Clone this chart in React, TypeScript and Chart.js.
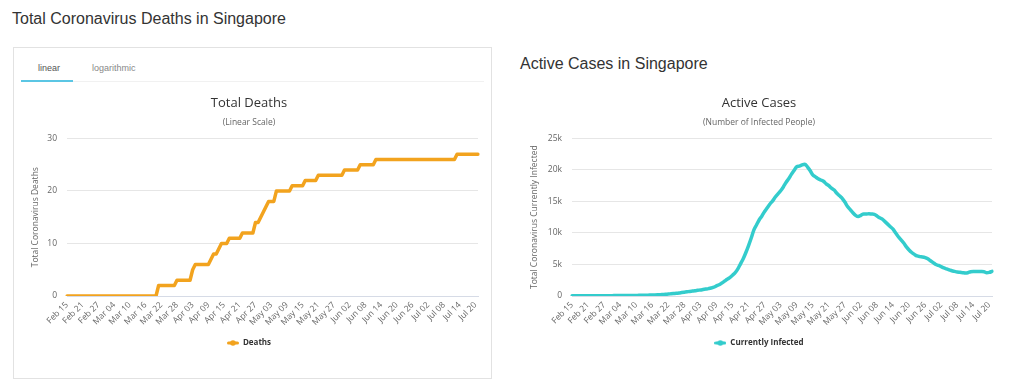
import React, { useEffect, useRef } from 'react';
import { Chart, registerables } from 'chart.js';

Chart.register(...registerables);

const FONT = "'Open Sans', 'DejaVu Sans', sans-serif";
const START_DATE = '2020-02-15';
const MONTHS = ['Jan', 'Feb', 'Mar', 'Apr', 'May', 'Jun', 'Jul', 'Aug', 'Sep', 'Oct', 'Nov', 'Dec'];

const TICK_LABELS = [
  'Feb 15', 'Feb 21', 'Feb 27', 'Mar 04', 'Mar 10', 'Mar 16', 'Mar 22', 'Mar 28', 'Apr 03',
  'Apr 09', 'Apr 15', 'Apr 21', 'Apr 27', 'May 03', 'May 09', 'May 15', 'May 21', 'May 27',
  'Jun 02', 'Jun 08', 'Jun 14', 'Jun 20', 'Jun 26', 'Jul 02', 'Jul 08', 'Jul 14', 'Jul 20',
];

const TOTAL_DEATHS = [
  0, 0, 0, 0, 0, 0, 0, 0, 0, 0,
  0, 0, 0, 0, 0, 0, 0, 0, 0, 0,
  0, 0, 0, 0, 0, 0, 0, 0, 0, 0,
  0, 0, 0, 0, 0, 2, 2, 2, 2, 2,
  2, 2, 3, 3, 3, 3, 3, 3, 5, 6,
  6, 6, 6, 6, 6, 7, 8, 8, 9, 10,
  10, 10, 11, 11, 11, 11, 11, 12, 12, 12,
  12, 12, 14, 14, 15, 16, 17, 18, 18, 18,
  20, 20, 20, 20, 20, 20, 21, 21, 21, 21,
  21, 22, 22, 22, 22, 22, 23, 23, 23, 23,
  23, 23, 23, 23, 23, 23, 24, 24, 24, 24,
  24, 24, 25, 25, 25, 25, 25, 25, 26, 26,
  26, 26, 26, 26, 26, 26, 26, 26, 26, 26,
  26, 26, 26, 26, 26, 26, 26, 26, 26, 26,
  26, 26, 26, 26, 26, 26, 26, 26, 26, 27,
  27, 27, 27, 27, 27, 27, 27, 27,
];

const ACTIVE_CASES = [
  50, 52, 55, 57, 55, 54, 52, 50, 48, 47,
  46, 48, 50, 52, 55, 58, 62, 66, 70, 72,
  75, 80, 85, 90, 96, 102, 110, 120, 130, 140,
  155, 170, 185, 200, 240, 280, 310, 350, 390, 430,
  480, 540, 600, 660, 730, 780, 830, 900, 960, 1030,
  1100, 1170, 1260, 1400, 1600, 1780, 2050, 2350, 2650, 2900,
  3300, 3700, 4300, 5100, 5900, 6900, 8000, 9200, 10500, 11300,
  12100, 12700, 13400, 14000, 14600, 15100, 15700, 16200, 16700, 17300,
  18000, 18600, 19300, 19900, 20500, 20600, 20800, 20900, 20500, 19900,
  19200, 18900, 18600, 18400, 18200, 17800, 17500, 17100, 16800, 16300,
  15900, 15500, 14900, 14200, 13700, 13200, 12800, 12600, 12800, 13000,
  13000, 13050, 13000, 12950, 12700, 12400, 12200, 11800, 11400, 11000,
  10600, 10000, 9400, 8900, 8400, 7800, 7300, 6900, 6600, 6350,
  6250, 6200, 6100, 5900, 5600, 5300, 5000, 4850, 4650, 4450,
  4300, 4150, 4000, 3900, 3800, 3750, 3700, 3650, 3700, 3850,
  3900, 3900, 3880, 3870, 3850, 3700, 3750, 3900,
];

const DEATH_TICKS = [0, 10, 20, 30];
const ACTIVE_TICKS = [0, 5000, 10000, 15000, 20000, 25000];

function buildDates(count: number): string[] {
  const out: string[] = [];
  const d = new Date(START_DATE + 'T00:00:00Z');
  for (let i = 0; i < count; i++) {
    const day = d.getUTCDate();
    out.push(MONTHS[d.getUTCMonth()] + ' ' + (day < 10 ? '0' + day : String(day)));
    d.setUTCDate(d.getUTCDate() + 1);
  }
  return out;
}

const DATES = buildDates(TOTAL_DEATHS.length);

function legendImage(color: string): HTMLCanvasElement {
  const c = document.createElement('canvas');
  c.width = 12;
  c.height = 6;
  const ctx = c.getContext('2d')!;
  ctx.strokeStyle = color;
  ctx.fillStyle = color;
  ctx.lineWidth = 3;
  ctx.lineCap = 'round';
  ctx.beginPath();
  ctx.moveTo(1.5, 3);
  ctx.lineTo(10.5, 3);
  ctx.stroke();
  ctx.beginPath();
  ctx.arc(6, 3, 2.8, 0, Math.PI * 2);
  ctx.fill();
  return c;
}

type Cfg = {
  title: string;
  subtitle: string;
  label: string;
  data: number[];
  color: string;
  tension: number;
  max: number;
  ticks: number[];
  yTitle: string;
  yWidth: number;
  yTitlePad: number;
  padRight: number;
  fmt: (v: number) => string;
};

function makeConfig(c: Cfg): any {
  const small = { family: FONT, size: 8.5 };
  return {
    type: 'line',
    data: {
      labels: DATES,
      datasets: [
        {
          label: c.label,
          data: c.data,
          borderColor: c.color,
          backgroundColor: c.color,
          borderWidth: 3.5,
          pointRadius: 0,
          pointHoverRadius: 0,
          tension: c.tension,
          cubicInterpolationMode: c.tension > 0 ? 'monotone' : 'default',
          fill: false,
          borderJoinStyle: 'round',
          borderCapStyle: 'round',
        },
      ],
    },
    options: {
      responsive: false,
      animation: false,
      events: [],
      layout: { padding: { left: 0, right: c.padRight, top: 0, bottom: 3 } },
      plugins: {
        title: {
          display: true,
          text: c.title,
          color: '#333333',
          font: { family: FONT, size: 13, weight: 'normal' },
          padding: { top: 7, bottom: 4 },
        },
        subtitle: {
          display: true,
          text: c.subtitle,
          color: '#666666',
          font: small,
          padding: { top: 3, bottom: 10.6 },
        },
        legend: {
          position: 'bottom',
          labels: {
            usePointStyle: true,
            pointStyle: legendImage(c.color),
            pointStyleWidth: 12,
            color: '#333333',
            font: { family: FONT, size: 8, weight: 'bold' },
            padding: 10,
          },
        },
        tooltip: { enabled: false },
      },
      scales: {
        x: {
          type: 'category',
          grid: { display: false, drawTicks: false },
          border: { display: true, color: '#d6dbe6', width: 1 },
          ticks: {
            autoSkip: false,
            maxRotation: 45,
            minRotation: 45,
            padding: 4,
            color: '#666666',
            font: small,
          },
          afterBuildTicks: (s: any) => {
            s.ticks = s.ticks.filter((t: any) => TICK_LABELS.includes(DATES[t.value]));
          },
          afterFit: (s: any) => {
            s.height = 33;
            s.paddingLeft = 0;
            s.paddingRight = 0;
          },
        },
        y: {
          min: 0,
          max: c.max,
          afterBuildTicks: (s: any) => {
            s.ticks = c.ticks.map((v) => ({ value: v }));
          },
          grid: { color: '#e6e6e6', drawTicks: false, lineWidth: 1 },
          border: { display: false },
          ticks: {
            padding: 10,
            color: '#666666',
            font: small,
            callback: (v: any) => c.fmt(Number(v)),
          },
          title: {
            display: true,
            text: c.yTitle,
            color: '#666666',
            font: small,
            padding: { top: c.yTitlePad, bottom: 0 },
          },
          afterFit: (s: any) => {
            s.width = c.yWidth;
          },
        },
      },
    },
  };
}

function ChartCanvas(props: { cfg: Cfg; left: number; top: number; width: number; height: number }) {
  const ref = useRef<HTMLCanvasElement>(null);
  useEffect(() => {
    if (!ref.current) return;
    const chart = new Chart(ref.current, makeConfig(props.cfg));
    return () => chart.destroy();
  }, []);
  return (
    <canvas
      ref={ref}
      width={props.width}
      height={props.height}
      style={{ position: 'absolute', left: props.left, top: props.top, width: props.width, height: props.height }}
    />
  );
}

const deathsCfg: Cfg = {
  title: 'Total Deaths',
  subtitle: '(Linear Scale)',
  label: 'Deaths',
  data: TOTAL_DEATHS,
  color: '#F2A31E',
  tension: 0,
  max: 30,
  ticks: DEATH_TICKS,
  yTitle: 'Total Coronavirus Deaths',
  yWidth: 47,
  yTitlePad: 10.4,
  padRight: 8,
  fmt: (v) => String(v),
};

const activeCfg: Cfg = {
  title: 'Active Cases',
  subtitle: '(Number of Infected People)',
  label: 'Currently Infected',
  data: ACTIVE_CASES,
  color: '#33CCCC',
  tension: 0.4,
  max: 25000,
  ticks: ACTIVE_TICKS,
  yTitle: 'Total Coronavirus Currently Infected',
  yWidth: 46,
  yTitlePad: 3.9,
  padRight: 2,
  fmt: (v) => (v === 0 ? '0' : v / 1000 + 'k'),
};

export default function App() {
  const sans = "'Liberation Sans', Arial, Helvetica, sans-serif";
  return (
    <div
      style={{
        position: 'fixed',
        left: 0,
        top: 0,
        width: 1024,
        height: 389,
        background: '#ffffff',
        overflow: 'hidden',
        fontFamily: sans,
      }}
    >
      <div style={{ position: 'absolute', left: 12, top: 9, fontSize: 16, lineHeight: '20px', color: '#333333', whiteSpace: 'nowrap' }}>
        Total Coronavirus Deaths in Singapore
      </div>
      <div
        style={{
          position: 'absolute',
          left: 13,
          top: 47,
          width: 479,
          height: 332,
          border: '1px solid #e2e2e2',
          boxSizing: 'border-box',
        }}
      />
      <div style={{ position: 'absolute', left: 21, top: 81, width: 463, height: 1, background: '#f1f1f1' }} />
      <div style={{ position: 'absolute', left: 21, top: 80, width: 52, height: 2, background: '#5bc6e4' }} />
      <div style={{ position: 'absolute', left: 38, top: 62, fontSize: 9, lineHeight: '12px', color: '#555555' }}>linear</div>
      <div style={{ position: 'absolute', left: 92, top: 62, fontSize: 9, lineHeight: '12px', color: '#888888' }}>logarithmic</div>
      <ChartCanvas cfg={deathsCfg} left={20} top={88} width={466} height={272} />

      <div style={{ position: 'absolute', left: 520, top: 54, fontSize: 16, lineHeight: '20px', color: '#333333', whiteSpace: 'nowrap' }}>
        Active Cases in Singapore
      </div>
      <ChartCanvas cfg={activeCfg} left={526} top={88} width={468} height={272} />
    </div>
  );
}
